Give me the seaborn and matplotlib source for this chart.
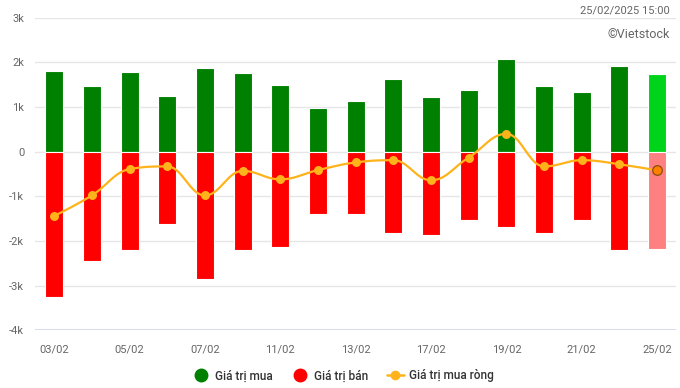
import matplotlib
matplotlib.use("Agg")
import matplotlib.pyplot as plt
import numpy as np
import pandas as pd
import seaborn as sns
from matplotlib.lines import Line2D

# values in billion VND
dates = ["03/02", "04/02", "05/02", "06/02", "07/02", "10/02", "11/02", "12/02", "13/02",
         "14/02", "17/02", "18/02", "19/02", "20/02", "21/02", "24/02", "25/02"]
buy = [1810, 1470, 1790, 1250, 1880, 1760, 1490, 980, 1130,
       1630, 1220, 1390, 2080, 1470, 1340, 1920, 1740]
sell = [-3260, -2450, -2210, -1620, -2860, -2210, -2140, -1400, -1400,
        -1820, -1870, -1530, -1690, -1820, -1530, -2210, -2190]
net = [-1440, -980, -390, -330, -980, -430, -620, -410, -240,
       -190, -640, -130, 400, -330, -190, -280, -420]

GREEN, GREEN_LAST = "#008000", "#00d41a"
RED, RED_LAST = "#ff0000", "#ff8080"
ORANGE, ORANGE_LAST = "#ffb31a", "#ff8000"
GRAY = "#666666"


def spline(xs, ys, smoothing=1.5, steps=24):
    """Highcharts-like spline path through the points."""
    n = len(xs)
    lc = [None] * n
    rc = [None] * n
    d = smoothing + 1
    for i in range(1, n - 1):
        x, y = xs[i], ys[i]
        lx, ly, nx, ny = xs[i - 1], ys[i - 1], xs[i + 1], ys[i + 1]
        lcx, lcy = (smoothing * x + lx) / d, (smoothing * y + ly) / d
        rcx, rcy = (smoothing * x + nx) / d, (smoothing * y + ny) / d
        if rcx != lcx:
            corr = ((rcy - lcy) * (rcx - x)) / (rcx - lcx) + y - rcy
            lcy += corr
            rcy += corr
        if lcy > max(ly, y):
            lcy = max(ly, y); rcy = 2 * y - lcy
        elif lcy < min(ly, y):
            lcy = min(ly, y); rcy = 2 * y - lcy
        if rcy > max(ny, y):
            rcy = max(ny, y); lcy = 2 * y - rcy
        elif rcy < min(ny, y):
            rcy = min(ny, y); lcy = 2 * y - rcy
        lc[i] = (lcx, lcy)
        rc[i] = (rcx, rcy)
    px, py = [], []
    t = np.linspace(0, 1, steps)
    for i in range(n - 1):
        p0 = np.array([xs[i], ys[i]])
        p3 = np.array([xs[i + 1], ys[i + 1]])
        p1 = np.array(rc[i]) if rc[i] else p0
        p2 = np.array(lc[i + 1]) if lc[i + 1] else p3
        seg = ((1 - t) ** 3)[:, None] * p0 + (3 * (1 - t) ** 2 * t)[:, None] * p1 \
            + (3 * (1 - t) * t ** 2)[:, None] * p2 + (t ** 3)[:, None] * p3
        px.extend(seg[:, 0]); py.extend(seg[:, 1])
    return px, py


sns.set_style("white")
plt.rcParams["font.family"] = ["Roboto", "DejaVu Sans"]

df = pd.DataFrame({"date": dates, "buy": buy, "sell": sell, "net": net})
pos = np.arange(len(dates))

fig = plt.figure(figsize=(6.8, 3.88), dpi=100)
ax = fig.add_axes([0.052, 0.149, 0.942, 0.805])

for v in range(-3000, 3001, 1000):
    ax.axhline(v, color="#e6e6e6", lw=1, zorder=0)
ax.axhline(-4000, color="#ccd6eb", lw=1.2, zorder=0)

buy_pal = [GREEN] * (len(dates) - 1) + [GREEN_LAST]
sell_pal = [RED] * (len(dates) - 1) + [RED_LAST]
sns.barplot(data=df, x="date", y="buy", hue="date", palette=buy_pal, legend=False,
            saturation=1, width=0.48, edgecolor="white", linewidth=0.8, ax=ax, zorder=2)
sns.barplot(data=df, x="date", y="sell", hue="date", palette=sell_pal, legend=False,
            saturation=1, width=0.48, edgecolor="white", linewidth=0.8, ax=ax, zorder=2)

sx, sy = spline(list(pos), net)
ax.plot(sx, sy, color=ORANGE, lw=1.6, zorder=3)
sns.scatterplot(x=pos[:-1], y=net[:-1], color=ORANGE, s=42, edgecolor=ORANGE,
                linewidth=0, ax=ax, zorder=4)
sns.scatterplot(x=pos[-1:], y=net[-1:], color=ORANGE_LAST, s=48, edgecolor="#8a4a10",
                linewidth=0.9, ax=ax, zorder=4)

ax.set_xlim(-0.5, len(dates) - 0.5)
ax.set_ylim(-4000, 3000)
ax.set_yticks(range(-4000, 3001, 1000))
ax.set_yticklabels([f"{v // 1000}k" if v else "0" for v in range(-4000, 3001, 1000)])
ax.set_xticks(pos[::2])
ax.set_xticklabels(dates[::2])
ax.tick_params(axis="both", length=0, colors=GRAY, labelsize=8)
ax.tick_params(axis="x", pad=10)
ax.tick_params(axis="y", pad=8)
ax.set_xlabel("")
ax.set_ylabel("")
sns.despine(ax=ax, left=True, bottom=True)

fig.text(0.985, 0.974, "25/02/2025 15:00", ha="right", va="center", color=GRAY, fontsize=8)
fig.text(0.985, 0.912, "©Vietstock", ha="right", va="center", color=GRAY, fontsize=9)

handles = [
    Line2D([], [], marker="o", ls="", color=GREEN, markersize=9),
    Line2D([], [], marker="o", ls="", color=RED, markersize=9),
    Line2D([], [], marker="o", ls="-", color=ORANGE, lw=1.8, markersize=6),
]
fig.legend(handles, ["Giá trị mua", "Giá trị bán", "Giá trị mua ròng"],
           loc="center", bbox_to_anchor=(0.505, 0.031), ncol=3, frameon=False,
           handlelength=1.4, handletextpad=0.5, columnspacing=1.6,
           prop={"size": 8.5, "weight": "medium"}, labelcolor="#333333")

fig.savefig("out.png", dpi=100)
